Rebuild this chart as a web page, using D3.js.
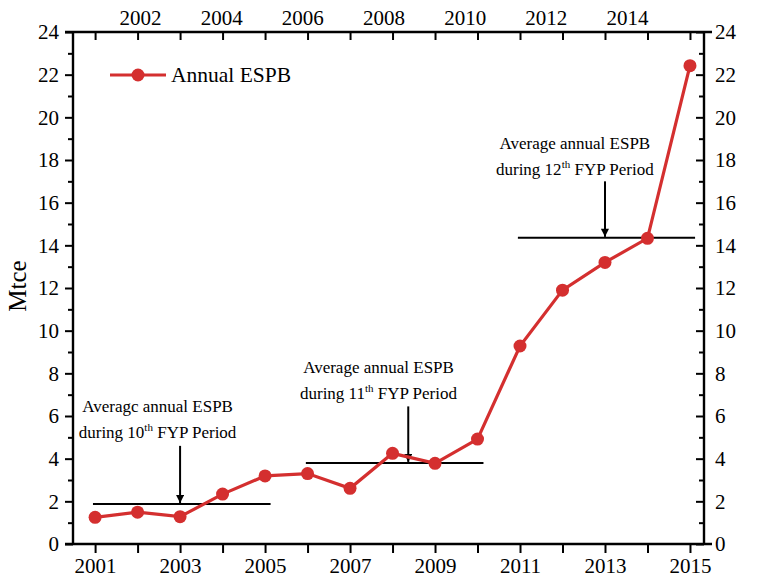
<!DOCTYPE html>
<html>
<head>
<meta charset="utf-8">
<script src="https://cdn.jsdelivr.net/npm/d3@7"></script>
<style>
  html, body { margin: 0; padding: 0; background: #fff; }
  svg { display: block; font-family: "Liberation Serif", "Times New Roman", serif; }
</style>
</head>
<body>
<svg id="chart" width="766" height="582"></svg>
<script>
// Annual energy saving from power building (ESPB), Mtce
const years = [2001, 2002, 2003, 2004, 2005, 2006, 2007, 2008, 2009, 2010, 2011, 2012, 2013, 2014, 2015];
const espb  = [1.25, 1.49, 1.28, 2.34, 3.19, 3.30, 2.61, 4.25, 3.78, 4.92, 9.28, 11.9, 13.2, 14.33, 22.42];

// Five-Year-Plan period averages
const periodLabels = ["10", "11", "12"];
const periodStart  = [2000.95, 2005.96, 2010.95];
const periodEnd    = [2005.13, 2010.14, 2015.12];
const periodAvg    = [1.87, 3.80, 14.35];
const arrowYear    = [2003, 2008.37, 2013];
const arrowTop     = [4.6, 6.45, 17.0];
const noteLine1    = ["Averagc annual ESPB", "Average annual ESPB", "Average annual ESPB"];
const noteCenter   = [2002.47, 2007.67, 2012.29];
const noteTop      = [6.2, 8.0, 18.5];

const bottomTicks = d3.range(2001, 2016);
const bottomLabels = [2001, 2003, 2005, 2007, 2009, 2011, 2013, 2015];
const topLabels = [2002, 2004, 2006, 2008, 2010, 2012, 2014];
const yMajor = d3.range(0, 25, 2);
const yMinor = d3.range(1, 24, 2);

const red = "#d42f2f";
const svg = d3.select("#chart");

const x = d3.scaleLinear().domain([2000.48, 2015.33]).range([73, 704]);
const xTopLabel = d3.scaleLinear().domain([2002, 2014]).range([140, 627]);
const y = d3.scaleLinear().domain([0, 24]).range([544, 32]);

const x0 = x.range()[0], x1 = x.range()[1];
const y0 = y.range()[0], y1 = y.range()[1];

function styleAxis(g) {
  g.selectAll("path").remove();
  g.selectAll("line").attr("stroke", "#000").attr("stroke-width", 2);
  g.selectAll("text").attr("fill", "#000").style("font-size", "21px")
    .style("font-family", "'Liberation Serif', 'Times New Roman', serif");
}

// bottom axis: ticks every year, labels on odd years
svg.append("g").attr("transform", `translate(0,${y0})`)
  .call(d3.axisBottom(x).tickValues(bottomTicks).tickSize(9).tickPadding(5)
    .tickFormat(d => bottomLabels.includes(d) ? d : ""))
  .call(styleAxis);

// top axis: inward ticks every year
svg.append("g").attr("transform", `translate(0,${y1})`)
  .call(d3.axisBottom(x).tickValues(bottomTicks).tickSize(8).tickFormat(""))
  .call(styleAxis);

// top axis labels on even years
svg.append("g").attr("transform", `translate(0,${y1})`)
  .call(d3.axisTop(xTopLabel).tickValues(topLabels).tickSize(0).tickPadding(7).tickFormat(d3.format("d")))
  .call(styleAxis);

// left axis: outward ticks
svg.append("g").attr("transform", `translate(${x0},0)`)
  .call(d3.axisLeft(y).tickValues(yMajor).tickSize(8).tickPadding(6))
  .call(styleAxis);
svg.append("g").attr("transform", `translate(${x0},0)`)
  .call(d3.axisLeft(y).tickValues(yMinor).tickSize(5).tickFormat(""))
  .call(styleAxis);

// right axis: inward ticks, labels outside
svg.append("g").attr("transform", `translate(${x1},0)`)
  .call(d3.axisLeft(y).tickValues(yMajor).tickSize(8).tickFormat(""))
  .call(styleAxis);
svg.append("g").attr("transform", `translate(${x1},0)`)
  .call(d3.axisLeft(y).tickValues(yMinor).tickSize(5).tickFormat(""))
  .call(styleAxis);
svg.append("g").attr("transform", `translate(${x1},0)`)
  .call(d3.axisRight(y).tickValues(yMajor).tickSize(0).tickPadding(11))
  .call(styleAxis);

// axis frame lines
const frame = svg.append("g").attr("stroke", "#000").attr("stroke-width", 2.4).attr("fill", "none");
frame.append("line").attr("x1", x0 - 8).attr("x2", x1 + 8).attr("y1", y0).attr("y2", y0);
frame.append("line").attr("x1", x0 - 8).attr("x2", x1 + 8).attr("y1", y1).attr("y2", y1);
frame.append("line").attr("x1", x0).attr("x2", x0).attr("y1", y1).attr("y2", y0);
frame.append("line").attr("x1", x1).attr("x2", x1).attr("y1", y1).attr("y2", y0);

// y axis title
svg.append("text")
  .attr("transform", `translate(26,${(y0 + y1) / 2 - 2}) rotate(-90)`)
  .attr("text-anchor", "middle")
  .style("font-size", "25px").attr("fill", "#000")
  .text("Mtce");

// period averages
svg.append("defs").append("marker")
  .attr("id", "head").attr("viewBox", "0 0 10 10")
  .attr("refX", 10).attr("refY", 5)
  .attr("markerWidth", 12).attr("markerHeight", 8)
  .attr("markerUnits", "userSpaceOnUse")
  .attr("orient", "auto")
  .append("path").attr("d", "M0,0 L10,5 L0,10 Z").attr("fill", "#000");

const periods = periodLabels.map((p, i) => ({
  p, s: periodStart[i], e: periodEnd[i], v: periodAvg[i],
  ax: arrowYear[i], at: arrowTop[i], l1: noteLine1[i], c: noteCenter[i], t: noteTop[i]
}));

const pg = svg.append("g");
pg.selectAll("line.avg").data(periods).join("line")
  .attr("class", "avg")
  .attr("x1", d => x(d.s)).attr("x2", d => x(d.e))
  .attr("y1", d => y(d.v)).attr("y2", d => y(d.v))
  .attr("stroke", "#000").attr("stroke-width", 2);

pg.selectAll("line.arrow").data(periods).join("line")
  .attr("class", "arrow")
  .attr("x1", d => x(d.ax)).attr("x2", d => x(d.ax))
  .attr("y1", d => y(d.at)).attr("y2", d => y(d.v) - 1)
  .attr("stroke", "#000").attr("stroke-width", 2)
  .attr("marker-end", "url(#head)");

const notes = pg.selectAll("g.note").data(periods).join("g").attr("class", "note");
notes.append("text")
  .attr("x", d => x(d.c)).attr("y", d => y(d.t))
  .attr("text-anchor", "middle").style("font-size", "17px").attr("fill", "#000")
  .text(d => d.l1);
const l2 = notes.append("text")
  .attr("x", d => x(d.c)).attr("y", d => y(d.t) + 26)
  .attr("text-anchor", "middle").style("font-size", "17px").attr("fill", "#000");
l2.append("tspan").text(d => "during " + d.p);
l2.append("tspan").attr("dy", -7).style("font-size", "11px").text("th");
l2.append("tspan").attr("dy", 7).text(" FYP Period");

// ESPB series
const series = years.map((yr, i) => ({ yr, v: espb[i] }));
svg.append("path").datum(series)
  .attr("fill", "none").attr("stroke", red).attr("stroke-width", 3.2)
  .attr("d", d3.line().x(d => x(d.yr)).y(d => y(d.v)));
svg.append("g").selectAll("circle").data(series).join("circle")
  .attr("cx", d => x(d.yr)).attr("cy", d => y(d.v)).attr("r", 6.5)
  .attr("fill", red);

// legend
const lg = svg.append("g");
lg.append("line").attr("x1", 110).attr("x2", 166).attr("y1", 75).attr("y2", 75)
  .attr("stroke", red).attr("stroke-width", 3.2);
lg.append("circle").attr("cx", 138).attr("cy", 75).attr("r", 6.5).attr("fill", red);
lg.append("text").attr("x", 171).attr("y", 82)
  .style("font-size", "21.5px").attr("fill", "#000").text("Annual ESPB");
</script>
</body>
</html>
